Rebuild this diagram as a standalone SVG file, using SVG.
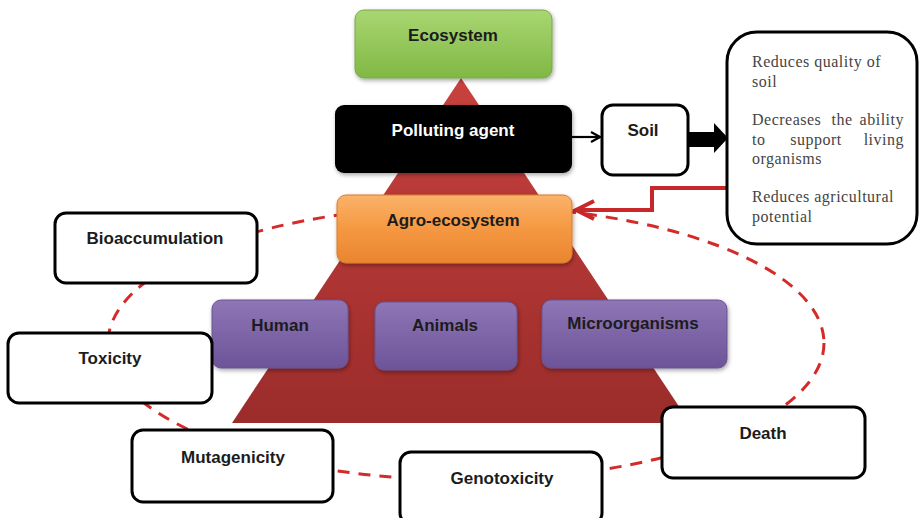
<svg xmlns="http://www.w3.org/2000/svg" width="920" height="518" viewBox="0 0 920 518">
<defs>
<linearGradient id="gTri" x1="0" y1="0" x2="0" y2="1"><stop offset="0" stop-color="#c8413f"/><stop offset="1" stop-color="#9a2c2a"/></linearGradient>
<linearGradient id="gGreen" x1="0" y1="0" x2="0" y2="1"><stop offset="0" stop-color="#a9d672"/><stop offset="1" stop-color="#80b844"/></linearGradient>
<linearGradient id="gOrange" x1="0" y1="0" x2="0" y2="1"><stop offset="0" stop-color="#fbb26a"/><stop offset="0.5" stop-color="#f59842"/><stop offset="1" stop-color="#ea8530"/></linearGradient>
<linearGradient id="gPurple" x1="0" y1="0" x2="0" y2="1"><stop offset="0" stop-color="#8f76b6"/><stop offset="1" stop-color="#6d5498"/></linearGradient>
<filter id="sh" x="-10%" y="-10%" width="125%" height="135%"><feDropShadow dx="1" dy="2" stdDeviation="2" flood-color="#000" flood-opacity="0.35"/></filter>
<marker id="openBlk" markerWidth="12" markerHeight="12" refX="10" refY="6" orient="auto" markerUnits="userSpaceOnUse"><path d="M1,1 L10,6 L1,11" fill="none" stroke="#000" stroke-width="2.2"/></marker>
<marker id="openRed" markerWidth="26" markerHeight="26" refX="21" refY="12" orient="auto" markerUnits="userSpaceOnUse"><path d="M3,3 L21,12 L3,21" fill="none" stroke="#c8282a" stroke-width="4"/></marker>
</defs>
<style>
.lbl{font-family:"Liberation Sans",Arial,sans-serif;font-weight:bold;font-size:17px;fill:#1c1c1c;text-anchor:middle}
.wbox{fill:#fff;stroke:#000;stroke-width:3}
.pbox{fill:url(#gPurple);stroke:#6a5393;stroke-width:1;filter:url(#sh)}
.body{font-family:"Liberation Serif","Times New Roman",serif;font-size:16px;letter-spacing:0.5px;fill:#444}
</style>
<polygon id="pyramid" points="461,78 232,423 690,423" fill="url(#gTri)"/>
<g id="connectors">
<ellipse cx="466" cy="343" rx="358" ry="137" fill="none" stroke="#d42a2a" stroke-width="3" stroke-dasharray="12,9"/>
<line x1="572" y1="137" x2="600" y2="137" stroke="#000" stroke-width="2.2" marker-end="url(#openBlk)"/>
<polygon points="688,132 714,132 714,123 728,138 714,153 714,147 688,147" fill="#000"/>
<path d="M727,188 H652 V210 H576" fill="none" stroke="#c8282a" stroke-width="4" marker-end="url(#openRed)"/>
</g>
<g id="ecosystem"><rect x="355" y="10" width="197" height="68" rx="9" fill="url(#gGreen)" stroke="#7aa84a" stroke-width="1" filter="url(#sh)"/><text class="lbl" x="453" y="41">Ecosystem</text></g>
<g id="polluting"><rect x="335" y="105" width="237" height="68" rx="9" fill="#000" filter="url(#sh)"/><text class="lbl" x="453" y="136" style="fill:#fff">Polluting agent</text></g>
<g id="agro"><rect x="337" y="195" width="235" height="68" rx="9" fill="url(#gOrange)" stroke="#d97a2a" stroke-width="1" filter="url(#sh)"/><text class="lbl" x="453" y="226">Agro-ecosystem</text></g>
<g id="soil"><rect class="wbox" x="602" y="105" width="86" height="70" rx="11"/><text class="lbl" x="643" y="136">Soil</text></g>
<g id="effects"><rect class="wbox" x="727" y="32" width="190" height="212" rx="30"/>
<text class="body" x="752" y="67">Reduces quality of</text>
<text class="body" x="752" y="87">soil</text>
<text class="body" x="752" y="125">Decreases</text><text class="body" x="842" y="125" text-anchor="middle">the</text><text class="body" x="904" y="125" text-anchor="end">ability</text>
<text class="body" x="752" y="145">to</text><text class="body" x="816" y="145" text-anchor="middle">support</text><text class="body" x="904" y="145" text-anchor="end">living</text>
<text class="body" x="752" y="164">organisms</text>
<text class="body" x="752" y="202">Reduces agricultural</text>
<text class="body" x="752" y="222">potential</text>
</g>
<g id="human"><rect class="pbox" x="212" y="300" width="136" height="68" rx="9"/><text class="lbl" x="280" y="331">Human</text></g>
<g id="animals"><rect class="pbox" x="375" y="302" width="142" height="68" rx="9"/><text class="lbl" x="445" y="331">Animals</text></g>
<g id="microorganisms"><rect class="pbox" x="542" y="300" width="185" height="68" rx="9"/><text class="lbl" x="633" y="329">Microorganisms</text></g>
<g id="bioaccumulation"><rect class="wbox" x="55" y="213" width="202" height="70" rx="11"/><text class="lbl" x="155" y="244">Bioaccumulation</text></g>
<g id="toxicity"><rect class="wbox" x="8" y="333" width="204" height="70" rx="11"/><text class="lbl" x="110" y="364">Toxicity</text></g>
<g id="mutagenicity"><rect class="wbox" x="132" y="430" width="201" height="72" rx="11"/><text class="lbl" x="233" y="463">Mutagenicity</text></g>
<g id="genotoxicity"><rect class="wbox" x="400" y="452" width="202" height="72" rx="11"/><text class="lbl" x="502" y="484">Genotoxicity</text></g>
<g id="death"><rect class="wbox" x="662" y="407" width="203" height="71" rx="11"/><text class="lbl" x="763" y="439">Death</text></g>
</svg>
